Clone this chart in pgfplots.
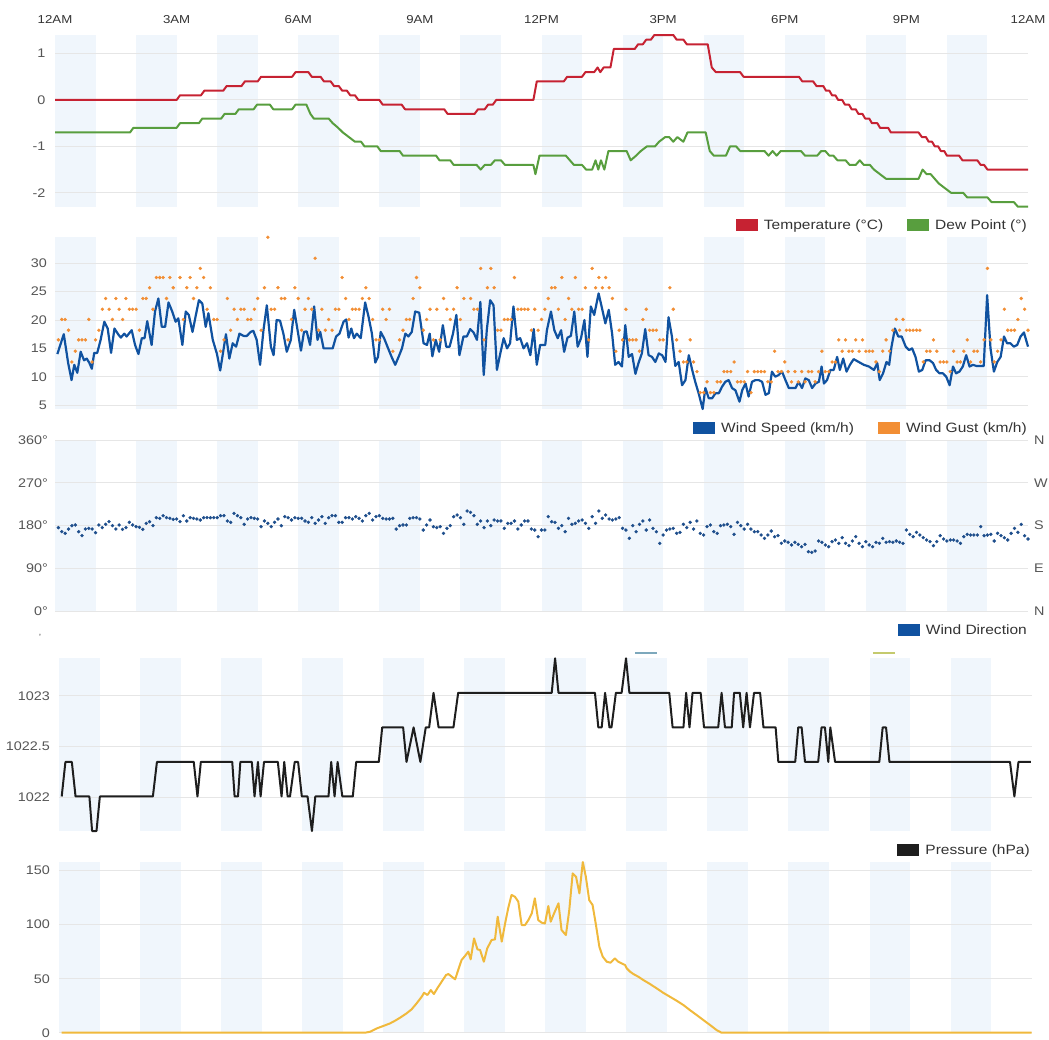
\documentclass[border=0pt]{standalone}
\usepackage{fontspec}
\setmainfont{Liberation Sans}[FakeStretch=1.15]
\usepackage{pgfplots}
\pgfplotsset{compat=1.18}
\definecolor{band}{RGB}{240,246,252}
\definecolor{gridc}{RGB}{230,230,230}
\definecolor{tred}{RGB}{198,34,50}
\definecolor{tgreen}{RGB}{88,158,62}
\definecolor{wblue}{RGB}{16,82,160}
\definecolor{gorange}{RGB}{242,142,52}
\definecolor{dblue}{RGB}{30,78,140}
\definecolor{pblack}{RGB}{30,30,30}
\definecolor{syellow}{RGB}{240,185,60}
\definecolor{labc}{RGB}{85,85,85}
\definecolor{legc}{RGB}{51,51,51}
\definecolor{teal}{RGB}{125,168,188}
\definecolor{ygreen}{RGB}{196,202,110}
\pgfplotsset{
  panel/.style={scale only axis, width=973pt, xmin=0, xmax=288, clip=false,
    axis line style={draw=none}, major tick length=0pt, tick style={draw=none},
    xtick=\empty,
    yticklabel style={font=\fontsize{12.5}{14}\selectfont, text=labc, anchor=east, inner sep=0pt},
  },
}
\newcommand{\bands}[2]{%
  \fill[band] (axis cs:0,#1) rectangle (axis cs:12,#2);
  \fill[band] (axis cs:24,#1) rectangle (axis cs:36,#2);
  \fill[band] (axis cs:48,#1) rectangle (axis cs:60,#2);
  \fill[band] (axis cs:72,#1) rectangle (axis cs:84,#2);
  \fill[band] (axis cs:96,#1) rectangle (axis cs:108,#2);
  \fill[band] (axis cs:120,#1) rectangle (axis cs:132,#2);
  \fill[band] (axis cs:144,#1) rectangle (axis cs:156,#2);
  \fill[band] (axis cs:168,#1) rectangle (axis cs:180,#2);
  \fill[band] (axis cs:192,#1) rectangle (axis cs:204,#2);
  \fill[band] (axis cs:216,#1) rectangle (axis cs:228,#2);
  \fill[band] (axis cs:240,#1) rectangle (axis cs:252,#2);
  \fill[band] (axis cs:264,#1) rectangle (axis cs:276,#2);
}
\newcommand{\hgrid}[1]{\draw[gridc, line width=1pt] (axis cs:0,#1) -- (axis cs:288,#1);}
\newcommand{\sw}[1]{\textcolor{#1}{\rule[-1.5pt]{22pt}{12pt}}\hspace{6pt}}
\begin{document}
\begin{tikzpicture}
\useasboundingbox (0pt,0pt) rectangle (1049pt,-1039pt);
% ---------------- Panel 1: temperature / dew point
\begin{axis}[panel, at={(55pt,-35pt)}, anchor=north west, height=171.7pt,
  ymin=-2.3, ymax=1.4, ytick={-2,-1,0,1}, yticklabels={-2,-1,0,1},
  yticklabel style={xshift=-9.5pt},
  xtick={0,36,72,108,144,180,216,252,288},
  xticklabels={12AM,3AM,6AM,9AM,12PM,3PM,6PM,9PM,12AM},
  xticklabel pos=right,
  xticklabel style={font=\fontsize{11.5}{13}\selectfont, text=legc, anchor=base, inner sep=0pt, yshift=11.5pt}]
\bands{-2.3}{1.4}
\hgrid{-2}\hgrid{-1}\hgrid{0}\hgrid{1}
\addplot[tgreen, line width=2pt, line join=round] coordinates {
(0,-0.7)(22.2,-0.7)(23.2,-0.6)(36,-0.6)(37,-0.5)(42.6,-0.5)(43.6,-0.4)(49.2,-0.4)(50.2,-0.3)(53.4,-0.3)(54.4,-0.2)(58.8,-0.2)(59.8,-0.1)(63.6,-0.1)(64.6,-0.2)(70.2,-0.2)(71.2,-0.1)(74.4,-0.1)(75.6,-0.3)(76.6,-0.4)(81,-0.4)(82.2,-0.5)(83.8,-0.6)(85.2,-0.7)(87,-0.8)(88.8,-0.9)(90.6,-0.9)(91.6,-1.0)(95.4,-1.0)(96.4,-1.1)(102,-1.1)(103,-1.2)(112.8,-1.2)(113.8,-1.3)(117,-1.3)(118,-1.4)(124.8,-1.4)(126,-1.5)(127.2,-1.4)(129,-1.4)(130.2,-1.3)(132,-1.3)(133.2,-1.4)(141.6,-1.4)(142.2,-1.6)(143.4,-1.2)(151.2,-1.2)(152.4,-1.3)(153.6,-1.4)(156,-1.4)(157.2,-1.5)(159,-1.5)(160,-1.3)(160.8,-1.5)(161.6,-1.3)(162.6,-1.5)(163.8,-1.1)(169.2,-1.1)(170.4,-1.3)(172,-1.2)(173.4,-1.1)(175.2,-1.0)(177.6,-1.0)(178.8,-0.9)(180.6,-0.8)(181.8,-0.8)(183,-0.9)(184.2,-0.8)(186,-0.9)(187.2,-0.7)(192.6,-0.7)(193.8,-1.1)(195,-1.2)(198.6,-1.2)(199.8,-1.0)(201.6,-1.0)(202.8,-1.1)(210,-1.1)(211.2,-1.2)(212.4,-1.1)(213.6,-1.2)(214.8,-1.1)(220.8,-1.1)(222,-1.2)(225.6,-1.2)(226.8,-1.1)(228,-1.1)(229.2,-1.2)(230.4,-1.2)(231.6,-1.3)(234,-1.3)(235.2,-1.4)(237,-1.4)(238.2,-1.3)(239.4,-1.4)(241.2,-1.4)(242.4,-1.5)(244.2,-1.6)(246,-1.7)(255.6,-1.7)(256.8,-1.5)(258,-1.6)(259.2,-1.6)(260.4,-1.7)(261.6,-1.8)(263.4,-1.9)(265.2,-2.0)(268.8,-2.0)(270,-2.1)(276,-2.1)(277.2,-2.2)(283.8,-2.2)(285,-2.3)(288,-2.3)};
\addplot[tred, line width=2pt, line join=round] coordinates {
(0,0)(36,0)(37,0.1)(43.2,0.1)(44.2,0.2)(49.8,0.2)(50.8,0.3)(55.2,0.3)(56.2,0.4)(60,0.4)(61,0.5)(70.2,0.5)(71.2,0.6)(75,0.6)(76,0.5)(78.6,0.5)(79.6,0.4)(81.6,0.4)(82.6,0.3)(84,0.3)(85,0.2)(86.4,0.2)(87.4,0.1)(88.8,0.1)(89.8,0)(96,0)(97,-0.1)(102.6,-0.1)(103.6,-0.2)(115.2,-0.2)(116.2,-0.3)(124.2,-0.3)(125.2,-0.2)(127.2,-0.2)(128.2,-0.1)(129.6,-0.1)(130.6,0)(141.6,0)(142.6,0.4)(150.6,0.4)(151.6,0.5)(156,0.5)(157,0.6)(159.6,0.6)(160.6,0.7)(161.4,0.6)(162.4,0.7)(164.4,0.7)(165.4,1.1)(171.6,1.1)(172.6,1.2)(174,1.2)(175,1.3)(176.4,1.3)(177.4,1.4)(183,1.4)(184,1.3)(186,1.3)(187,1.2)(193.2,1.2)(194.4,0.7)(195.6,0.6)(202.8,0.6)(203.8,0.5)(220.2,0.5)(221.2,0.4)(224.4,0.4)(225.4,0.3)(227.4,0.3)(228.2,0.2)(229.2,0.2)(230,0.1)(231,0.1)(231.8,0)(233,0)(233.8,-0.1)(235,-0.1)(235.8,-0.2)(237,-0.2)(237.8,-0.3)(239,-0.3)(239.8,-0.4)(241,-0.4)(241.8,-0.5)(243.4,-0.5)(244.2,-0.6)(246.6,-0.6)(247.4,-0.7)(255.6,-0.7)(256.6,-0.8)(257.8,-0.8)(258.6,-0.9)(259.6,-0.9)(260.4,-1.0)(261.4,-1.0)(262.2,-1.1)(263.2,-1.1)(264,-1.2)(267.6,-1.2)(268.6,-1.3)(273,-1.3)(274,-1.4)(275,-1.4)(276,-1.5)(288,-1.5)};
\end{axis}
\node[anchor=base east, inner sep=0pt, font=\fontsize{13.5}{15}\selectfont, text=legc] at (1027pt,-229.5pt)
  {\sw{tred}Temperature (°C)\hspace{24pt}\sw{tgreen}Dew Point (°)};
% ---------------- Panel 2: wind
\begin{axis}[panel, at={(55pt,-236.7pt)}, anchor=north west, height=172.6pt,
  ymin=4.25, ymax=34.7, ytick={5,10,15,20,25,30}, yticklabels={5,10,15,20,25,30},
  yticklabel style={xshift=-8pt}]
\bands{4.25}{34.7}
\hgrid{5}\hgrid{10}\hgrid{15}\hgrid{20}\hgrid{25}\hgrid{30}
\addplot[wblue, line width=2.2pt, line join=round] coordinates {
(0.7,14.0)(2.6,17.5)(3.9,12.4)(4.9,9.4)(5.7,12.1)(6.6,10.7)(7.6,14.4)(8.6,12.9)(9.4,13.2)(10.2,12.4)(10.9,11.4)(11.6,14.2)(12.5,14.2)(13.5,16.5)(14.6,19.7)(15.6,18.5)(16.6,14.2)(17.6,18.5)(18.8,17.4)(19.5,16.9)(20.5,17.6)(21.2,17.1)(22.7,18.2)(23.7,15.6)(24.7,14.0)(25.7,16.8)(26.5,16.8)(27.3,19.8)(28.6,15.6)(29.6,21.5)(30.6,23.8)(31.6,18.8)(32.6,18.8)(33.6,23.1)(34.7,21.5)(35.7,19.7)(36.5,20.3)(37.7,15.6)(38.7,21.5)(39.6,20.9)(40.7,17.9)(41.7,20.9)(42.6,23.5)(43.6,22.9)(44.6,18.8)(45.4,21.2)(46.7,16.5)(47.9,14.1)(48.9,11.1)(49.7,14.1)(50.6,17.5)(51.6,13.2)(52.6,15.9)(53.6,15.3)(54.6,17.6)(55.8,17.2)(56.8,17.2)(57.9,17.9)(58.7,18.1)(59.7,16.5)(60.7,12.1)(61.7,18.2)(62.7,22.6)(63.9,15.3)(64.7,13.8)(65.6,20.0)(66.6,19.9)(67.6,17.6)(68.6,14.4)(69.8,16.5)(70.8,21.8)(71.8,18.2)(72.8,14.6)(73.7,17.9)(74.5,18.0)(75.5,15.6)(76.7,22.4)(77.7,16.5)(78.5,17.9)(79.5,15.0)(81.4,15.0)(82.2,15.0)(83.2,17.1)(84.2,17.6)(85.4,19.7)(86.2,20.1)(86.9,16.9)(87.7,18.5)(88.5,16.8)(89.3,17.6)(90.5,16.8)(91.8,23.1)(92.8,20.6)(93.8,17.6)(94.8,12.5)(95.6,13.5)(96.4,17.9)(97.4,16.8)(98.4,15.3)(99.7,13.4)(100.7,12.1)(101.7,13.5)(102.7,15.0)(103.7,17.6)(104.6,17.1)(105.6,17.9)(106.6,21.5)(107.8,21.3)(109.1,15.9)(110.1,15.6)(110.9,17.6)(111.7,13.6)(112.7,16.5)(113.7,14.4)(114.8,19.1)(115.8,15.3)(116.8,15.3)(117.8,17.6)(118.8,20.9)(119.7,13.8)(120.9,17.1)(121.9,17.1)(122.9,18.4)(123.9,17.8)(124.9,16.5)(125.9,23.2)(126.9,10.3)(127.8,18.2)(128.8,23.5)(129.8,22.6)(130.8,11.2)(131.8,14.1)(132.8,16.8)(133.8,15.0)(134.7,15.9)(135.7,22.4)(136.7,16.5)(137.7,16.8)(138.7,15.0)(139.7,15.9)(140.7,13.8)(141.7,18.4)(142.6,12.1)(143.6,15.6)(145.1,15.6)(145.6,18.2)(146.8,21.5)(147.8,18.2)(148.8,16.8)(149.8,18.2)(150.7,14.4)(151.7,16.9)(152.7,17.2)(153.7,21.5)(154.7,15.3)(155.7,16.8)(156.7,20.0)(157.6,13.5)(158.6,22.4)(159.6,20.9)(160.9,24.7)(161.9,22.1)(162.9,19.4)(163.9,21.8)(164.9,17.6)(165.8,12.1)(166.8,12.6)(167.8,11.8)(168.8,19.1)(169.8,13.5)(170.8,14.0)(171.8,10.5)(172.7,12.4)(173.7,14.1)(174.7,18.4)(175.7,13.8)(176.7,13.5)(177.7,12.6)(178.7,14.1)(179.7,13.8)(180.7,12.6)(181.6,20.5)(182.6,17.1)(183.6,11.9)(184.6,12.6)(185.6,8.5)(186.6,9.4)(187.6,13.8)(188.6,11.2)(189.5,9.1)(190.5,7.1)(191.7,4.3)(192.5,8.0)(193.5,6.2)(194.5,6.2)(195.5,7.1)(196.5,7.1)(197.4,8.2)(198.4,9.1)(199.4,9.4)(200.4,8.0)(201.4,7.6)(202.6,5.6)(203.4,7.6)(204.4,8.8)(205.3,6.5)(206.3,9.1)(207.3,9.4)(208.3,9.4)(209.3,9.1)(210.3,6.8)(211.3,7.1)(212.2,10.9)(213.2,10.0)(214.2,10.3)(215.2,10.9)(216.2,9.4)(217.2,8.0)(218.2,8.0)(219.2,8.0)(220.1,9.1)(221.1,8.0)(222.1,9.7)(223.1,9.4)(224.1,8.0)(225.1,8.8)(226.1,9.1)(226.9,11.8)(227.6,8.8)(228.5,9.4)(229.5,11.2)(230.5,11.2)(231.5,13.5)(232.3,11.2)(233.3,13.2)(234.3,10.9)(235.3,12.1)(236.4,13.1)(237.9,12.6)(239.4,12.1)(240.9,11.8)(242.4,11.2)(243.4,12.4)(244.1,9.4)(245.1,10.6)(246.1,12.6)(246.9,12.1)(247.6,15.3)(248.6,18.5)(249.6,17.1)(250.6,17.1)(251.8,15.3)(252.8,14.7)(253.7,15.0)(254.7,13.5)(255.7,10.9)(256.7,11.2)(257.7,12.9)(258.9,12.9)(259.9,12.4)(260.8,11.2)(261.8,10.6)(262.8,10.6)(263.8,10.0)(264.8,8.5)(265.8,11.8)(266.7,10.6)(267.7,10.9)(268.7,11.8)(269.7,13.8)(270.7,11.8)(271.7,12.1)(272.7,11.9)(273.6,11.9)(274.9,11.9)(275.9,24.4)(276.9,15.0)(277.9,10.9)(278.9,12.6)(279.9,13.5)(280.9,17.1)(281.8,15.9)(282.8,15.9)(283.8,15.3)(284.8,15.6)(285.8,17.1)(286.8,17.8)(288,15.3)};
\addplot[only marks, mark=*, mark size=1.5pt, gorange, mark options={draw=none, fill=gorange}] coordinates {
(1,16.5)(2,20.1)(3,20.1)(4,18.2)(5,12.6)(6,14.5)(7,16.5)(8,16.5)(9,16.5)(10,20.1)(11,12.6)(12,16.5)(13,18.2)(14,21.9)(15,23.8)(16,21.9)(17,20.1)(18,23.8)(19,21.9)(20,20.1)(21,23.8)(22,21.9)(23,21.9)(24,21.9)(25,18.2)(26,23.8)(27,23.8)(28,25.7)(29,21.9)(30,27.5)(31,27.5)(32,27.5)(33,23.8)(34,27.5)(35,25.7)(37,27.5)(38,20.1)(39,25.7)(40,27.5)(41,23.8)(42,25.7)(43,29.1)(44,27.5)(45,21.9)(46,25.7)(47,20.1)(48,20.1)(49,14.5)(50,16.5)(51,23.8)(52,18.2)(53,21.9)(54,20.1)(55,21.9)(56,21.9)(57,20.1)(58,20.1)(59,21.9)(60,23.8)(61,18.2)(62,25.7)(63,34.6)(64,21.9)(65,21.9)(66,25.7)(67,23.8)(68,23.8)(69,16.5)(70,20.1)(71,25.7)(72,23.8)(73,18.2)(74,21.9)(75,23.8)(76,21.9)(77,30.9)(78,18.2)(79,21.9)(80,18.2)(81,20.1)(82,18.2)(83,21.9)(84,21.9)(85,27.5)(86,23.8)(87,20.1)(88,21.9)(89,21.9)(90,21.9)(91,23.8)(92,25.7)(93,23.8)(94,20.1)(95,16.5)(96,16.5)(97,21.9)(98,20.1)(99,21.9)(100,14.5)(102,16.5)(103,18.2)(104,20.1)(105,20.1)(106,23.8)(107,27.5)(108,25.7)(109,18.2)(110,20.1)(111,21.9)(112,16.5)(113,21.9)(114,16.5)(115,23.8)(116,21.9)(117,20.1)(118,21.9)(119,25.7)(120,20.1)(121,23.8)(123,23.8)(124,21.9)(125,21.9)(126,29.1)(127,16.5)(128,25.7)(129,29.1)(130,25.7)(131,18.2)(132,18.2)(133,20.1)(134,20.1)(135,20.1)(136,27.5)(137,21.9)(138,21.9)(139,21.9)(140,21.9)(141,18.2)(142,21.9)(143,18.2)(144,20.1)(145,21.9)
(146,23.8)(147,25.7)(148,25.7)(149,21.9)(150,27.5)(151,20.1)(152,23.8)(153,21.9)(154,27.5)(155,21.9)(156,21.9)(157,25.7)(158,16.5)(159,29.1)(160,25.7)(161,27.5)(162,25.7)(163,27.5)(164,25.7)(165,23.8)(166,14.5)(167,18.2)(168,16.5)(169,21.9)(170,16.5)(171,16.5)(172,16.5)(173,14.5)(174,20.1)(175,21.9)(176,18.2)(177,18.2)(178,18.2)(179,16.5)(180,16.5)(182,25.7)(183,21.9)(184,16.5)(185,14.5)(186,12.6)(187,12.6)(188,16.5)(189,12.6)(190,10.9)(191,7.2)(192,7.2)(193,9.1)(194,7.2)(195,7.2)(196,9.1)(197,9.1)(198,10.9)(199,10.9)(200,10.9)(201,12.6)(202,9.1)(203,9.1)(204,9.1)(205,10.9)(206,7.2)(207,10.9)(208,10.9)(209,10.9)(210,10.9)(211,9.1)(212,9.1)(213,14.5)(214,10.9)(215,10.9)(216,12.6)(217,10.9)(218,9.1)(219,10.9)(220,9.1)(221,10.9)(222,9.1)(223,10.9)(224,10.9)(225,9.1)(226,10.9)(227,14.5)(228,10.9)(229,10.9)(230,12.6)(231,12.6)(232,16.5)(233,14.5)(234,16.5)(235,14.5)(236,14.5)(237,16.5)(238,14.5)(239,16.5)(240,14.5)(241,14.5)(242,14.5)(243,12.6)(244,10.9)(245,14.5)(246,16.5)(247,14.5)(248,18.2)(249,20.1)(250,18.2)(251,20.1)(252,18.2)(253,18.2)(254,18.2)(255,18.2)(256,18.2)(257,12.6)(258,14.5)(259,14.5)(260,16.5)(261,14.5)(262,12.6)(263,12.6)(264,12.6)(265,10.9)(266,14.5)(267,12.6)(268,12.6)(269,14.5)(270,16.5)(271,12.6)(272,14.5)(273,14.5)(274,12.6)(275,16.5)(276,29.1)(277,16.5)(278,12.6)(279,14.5)(280,16.5)(281,21.9)(282,18.2)(283,18.2)(284,18.2)(285,20.1)(286,23.8)(287,21.9)(288,18.2)};
\end{axis}
\node[anchor=base east, inner sep=0pt, font=\fontsize{13.5}{15}\selectfont, text=legc] at (1027pt,-432.5pt)
  {\sw{wblue}Wind Speed (km/h)\hspace{24pt}\sw{gorange}Wind Gust (km/h)};
% ---------------- Panel 3: wind direction
\begin{axis}[panel, at={(55pt,-440pt)}, anchor=north west, height=171pt,
  ymin=0, ymax=360, ytick={0,90,180,270,360}, yticklabels={0°,90°,180°,270°,360°},
  yticklabel style={xshift=-7pt}]
\bands{0}{360}
\hgrid{0}\hgrid{90}\hgrid{180}\hgrid{270}\hgrid{360}
\addplot[only marks, mark=*, mark size=1.5pt, dblue, mark options={draw=none, fill=dblue}] coordinates {
(1,175.5)(2,167.0)(3,163.5)(4,172.6)(5,179.7)(6,181.1)(7,167.0)(8,158.6)(9,172.6)(10,174.0)(11,172.6)(12,164.9)(13,181.1)(14,175.5)(15,182.5)(16,188.1)(17,179.7)(18,172.6)(19,181.1)(20,171.9)(21,175.5)(22,186.7)(23,181.1)(24,177.6)(25,176.2)(26,171.9)(27,184.6)(28,188.1)(29,179.7)(30,196.5)(31,195.1)(32,200.7)(33,196.5)(34,195.1)(35,193.0)(36,193.7)(37,188.1)(38,200.7)(39,189.5)(40,196.5)(41,195.1)(42,193.7)(43,191.6)(44,196.5)(45,196.5)(46,196.5)(47,196.5)(48,196.5)(49,200.7)(50,200.7)(51,189.5)(52,186.7)(53,205.6)(54,200.7)(55,196.5)(56,182.5)(57,193.7)(58,196.5)(59,195.1)(60,193.7)(61,177.6)(62,189.5)(63,184.6)(64,177.6)(65,186.7)(66,193.7)(67,179.7)(68,198.6)(69,196.5)(70,191.6)(71,196.5)(72,195.1)(73,195.1)(74,189.5)(75,186.7)(76,196.5)(77,184.6)(78,191.6)(79,198.6)(80,184.6)(81,196.5)(82,200.7)(83,200.7)(84,186.7)(85,186.7)(86,196.5)(87,196.5)(88,193.7)(89,198.6)(90,195.1)(91,189.5)(92,200.7)(93,205.6)(94,191.6)(95,198.6)(96,200.7)(97,195.1)(98,193.7)(99,193.7)(100,195.1)(101,172.6)(102,179.7)(103,181.1)(104,181.1)(105,195.1)(106,196.5)(107,196.5)(108,193.7)(109,170.5)(110,181.1)(111,191.6)(112,177.6)(113,175.5)(114,177.6)(115,163.5)(116,174.0)(117,179.7)(118,198.6)(119,202.1)(120,196.5)(121,182.5)(122,210.5)(123,207.7)(124,200.7)(125,182.5)(126,189.5)(127,175.5)(128,189.5)(129,179.7)(130,191.6)(131,189.5)(132,189.5)(133,174.0)(134,184.6)(135,184.6)(136,189.5)(137,172.6)(138,181.1)(139,189.5)(140,189.5)(141,172.6)(142,170.5)
(143,156.5)(144,170.5)(145,170.5)(146,198.6)(147,188.1)(148,186.7)(149,174.0)(150,179.7)(151,167.0)(152,195.1)(153,182.5)(154,184.6)(155,189.5)(156,191.6)(157,184.6)(158,174.0)(159,198.6)(160,184.6)(161,210.5)(162,195.1)(163,202.1)(164,193.7)(165,191.6)(166,193.7)(167,196.5)(168,174.0)(169,170.5)(170,153.0)(171,179.7)(172,167.0)(173,182.5)(174,189.5)(175,170.5)(176,191.6)(177,174.0)(178,167.0)(179,142.5)(180,160.0)(181,170.5)(182,172.6)(183,174.0)(184,163.5)(185,165.6)(186,182.5)(187,175.5)(188,186.7)(189,172.6)(190,189.5)(191,163.5)(192,160.0)(193,177.6)(194,181.1)(195,167.0)(196,163.5)(197,179.7)(198,181.1)(199,182.5)(200,177.6)(201,161.4)(202,186.7)(203,179.7)(204,172.6)(205,182.5)(206,172.6)(207,167.0)(208,167.0)(209,160.0)(210,153.0)(211,160.0)(212,168.4)(213,156.5)(214,158.6)(215,142.5)(216,147.4)(217,144.6)(218,139.0)(219,144.6)(220,140.4)(221,135.4)(222,140.4)(223,124.9)(224,123.5)(225,126.3)(226,147.4)(227,144.6)(228,139.0)(229,135.4)(230,146.0)(231,149.5)(232,142.5)(233,154.4)(234,142.5)(235,137.6)(236,147.4)(237,156.5)(238,142.5)(239,135.4)(240,146.0)(241,139.0)(242,135.4)(243,144.6)(244,142.5)(245,153.0)(246,144.6)(247,146.0)(248,144.6)(249,147.4)(250,144.6)(251,142.5)(252,170.5)(253,161.4)(254,156.5)(255,165.6)(256,160.0)(257,154.4)(258,149.5)(259,146.0)(260,137.6)(261,146.0)(262,158.6)(263,151.6)(264,147.4)(265,149.5)(266,149.5)(267,147.4)(268,142.5)(269,156.5)(270,161.4)(271,160.0)(272,160.0)(273,160.0)(274,177.6)(275,158.6)(276,160.0)(277,161.4)(278,147.4)(279,163.5)(280,158.6)(281,154.4)(282,149.5)(283,163.5)(284,174.0)(285,165.6)(286,182.5)(287,158.6)(288,151.6)};
\node[anchor=west, inner sep=0pt, font=\fontsize{12.5}{14}\selectfont, text=labc, xshift=6pt] at (axis cs:288,360) {N};
\node[anchor=west, inner sep=0pt, font=\fontsize{12.5}{14}\selectfont, text=labc, xshift=6pt] at (axis cs:288,270) {W};
\node[anchor=west, inner sep=0pt, font=\fontsize{12.5}{14}\selectfont, text=labc, xshift=6pt] at (axis cs:288,180) {S};
\node[anchor=west, inner sep=0pt, font=\fontsize{12.5}{14}\selectfont, text=labc, xshift=6pt] at (axis cs:288,90) {E};
\node[anchor=west, inner sep=0pt, font=\fontsize{12.5}{14}\selectfont, text=labc, xshift=6pt] at (axis cs:288,0) {N};
\end{axis}
\node[anchor=base east, inner sep=0pt, font=\fontsize{13.5}{15}\selectfont, text=legc] at (1027pt,-634.5pt)
  {\sw{wblue}Wind Direction};
% clipped legend fragments
\node[inner sep=0pt, font=\fontsize{9}{10}\selectfont, text=labc] at (40pt,-637pt) {'};
\draw[teal, line width=2pt] (635pt,-653pt) -- (657pt,-653pt);
\draw[ygreen, line width=2pt] (873pt,-653pt) -- (895pt,-653pt);
% ---------------- Panel 4: pressure
\begin{axis}[panel, at={(59pt,-658.3pt)}, anchor=north west, width=972.6pt, height=172.7pt,
  ymin=1021.67, ymax=1023.37, ytick={1022,1022.5,1023}, yticklabels={1022,1022.5,1023},
  yticklabel style={xshift=-9pt}]
\bands{1021.67}{1023.37}
\hgrid{1022}\hgrid{1022.5}\hgrid{1023}
\addplot[pblack, line width=2pt, line join=round] coordinates {
(0.8,1022.01)(1.9,1022.35)(3.8,1022.35)(4.9,1022.01)(9.0,1022.01)(9.8,1021.67)(11.1,1021.67)(12.1,1022.01)(27.8,1022.01)(29.0,1022.35)(39.9,1022.35)(41.0,1022.01)(42.0,1022.35)(51.3,1022.35)(52.0,1022.01)(53.0,1022.01)(53.7,1022.35)(57.1,1022.35)(57.9,1022.01)(58.9,1022.35)(59.7,1022.01)(60.7,1022.35)(64.8,1022.35)(65.9,1022.01)(66.7,1022.35)(67.7,1022.01)(68.4,1022.01)(69.8,1022.35)(70.8,1022.35)(71.9,1022.01)(73.6,1022.01)(74.9,1021.67)(75.9,1022.01)(79.8,1022.01)(80.6,1022.35)(81.6,1022.01)(82.5,1022.35)(83.9,1022.01)(87.0,1022.01)(88.0,1022.35)(94.7,1022.35)(95.7,1022.69)(101.9,1022.69)(102.9,1022.35)(105.0,1022.69)(107.0,1022.35)(108.6,1022.69)(109.6,1022.69)(110.9,1023.03)(112.4,1022.69)(116.8,1022.69)(118.2,1023.03)(145.9,1023.03)(146.9,1023.37)(147.9,1023.03)(158.7,1023.03)(159.7,1022.69)(160.7,1022.69)(161.7,1023.03)(163.0,1022.69)(163.6,1022.69)(164.9,1023.03)(166.6,1023.03)(167.9,1023.37)(168.9,1023.03)(180.7,1023.03)(181.7,1022.69)(184.9,1022.69)(185.7,1023.03)(186.7,1022.69)(187.6,1023.03)(190.0,1023.03)(191.0,1022.69)(195.2,1022.69)(196.2,1023.03)(197.2,1022.69)(199.2,1022.69)(199.9,1023.03)(201.6,1023.03)(202.6,1022.69)(203.6,1023.03)(204.6,1022.69)(205.8,1023.03)(207.6,1023.03)(208.6,1022.69)(212.2,1022.69)(213.0,1022.35)(218.0,1022.35)(218.9,1022.69)(219.9,1022.69)(220.9,1022.35)(224.8,1022.35)(225.8,1022.69)(226.8,1022.69)(227.8,1022.35)(228.4,1022.69)(229.8,1022.35)(242.9,1022.35)(243.9,1022.69)(244.9,1022.69)(245.9,1022.35)(281.6,1022.35)(282.9,1022.01)(284.1,1022.35)(287.8,1022.35)};
\end{axis}
\node[anchor=base east, inner sep=0pt, font=\fontsize{13.5}{15}\selectfont, text=legc] at (1030pt,-854.5pt)
  {\sw{pblack}Pressure (hPa)};
% ---------------- Panel 5: solar
\begin{axis}[panel, at={(59pt,-861.7pt)}, anchor=north west, width=972.6pt, height=171pt,
  ymin=0, ymax=158.3, ytick={0,50,100,150}, yticklabels={0,50,100,150},
  yticklabel style={xshift=-9pt}]
\bands{0}{158.3}
\hgrid{0}\hgrid{50}\hgrid{100}\hgrid{150}
\addplot[syellow, line width=2pt, line join=round] coordinates {
(0.8,0)(90.6,0)(92.1,0.9)(94.1,4)(96.0,6.2)(98.0,8.6)(99.5,11.1)(101.0,13.9)(102.9,17.9)(104.4,21.6)(105.9,27.2)(107.4,33.3)(108.1,37)(109.1,34.9)(110.1,39.5)(111.0,35.8)(112.0,41)(113.3,47.2)(114.6,53.4)(115.3,54.3)(116.3,51.9)(117.3,49.4)(118.2,58)(119.2,67.3)(120.2,71)(121.2,75)(121.9,67.9)(122.9,87.3)(123.9,77.2)(124.7,76.5)(125.8,65.7)(126.8,78.1)(128.1,85.8)(129.1,86.4)(129.9,107.4)(131.1,84.3)(132.1,101.2)(133.0,115.1)(134.0,127.5)(135.0,125.9)(136.0,121.3)(137.0,99.7)(138.0,99.7)(139.0,104.3)(140.0,110.5)(140.9,124.4)(141.9,104.3)(142.9,101.9)(143.9,101.2)(144.9,117.3)(145.6,102.8)(146.6,110.5)(147.9,119.8)(148.8,95.1)(150.1,90.4)(151.1,113.6)(152.1,147.5)(153.1,144.4)(154.1,129)(155.1,158)(156.0,144.4)(157.0,122.8)(158.0,118.2)(159.0,99.7)(160.0,79.6)(161.0,70.4)(162.2,65.7)(163.3,64.8)(164.6,68.8)(165.6,65.7)(166.6,64.2)(167.6,62.7)(168.1,59.6)(169.1,56.5)(170.1,54.3)(171.5,51.9)(173.0,48.8)(175.0,45.1)(177.0,41)(178.9,37)(180.9,33.3)(182.9,29.6)(184.9,25.6)(186.8,21)(188.8,16.4)(190.8,11.7)(192.8,7.1)(194.7,2.5)(196.2,0)(288,0)};
\end{axis}
\end{tikzpicture}
\end{document}
